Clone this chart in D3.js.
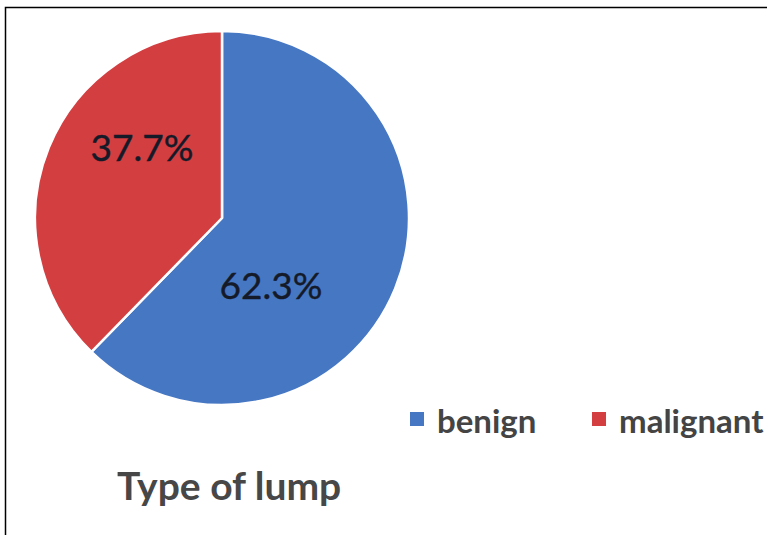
<!DOCTYPE html>
<html>
<head>
<meta charset="utf-8">
<script src="https://cdn.jsdelivr.net/npm/d3@7"></script>
<style>
html,body{margin:0;padding:0;background:#fff;}
svg{display:block;}
</style>
</head>
<body>
<svg id="chart" width="767" height="535"></svg>
<script>
const categories = ["benign", "malignant"];
const values = [62.3, 37.7];
const labels = ["62.3%", "37.7%"];
const colors = ["#4677C3", "#D33E41"];
const title = "Type of lump";

const svg = d3.select("#chart");
// frame (only top and left edges visible in the crop)
svg.append("rect").attr("x", 5.5).attr("y", 7.5).attr("width", 800).attr("height", 600)
  .attr("fill", "none").attr("stroke", "#000").attr("stroke-width", 1.5);

const cx = 222, cy = 218, r = 187;
const pie = d3.pie().sort(null).value(d => d)(values);
const arc = d3.arc().innerRadius(0).outerRadius(r);
const g = svg.append("g").attr("transform", `translate(${cx},${cy})`);
g.selectAll("path").data(pie).join("path")
  .attr("d", arc)
  .attr("fill", (d, i) => colors[i])
  .attr("stroke", "#fff").attr("stroke-width", 2.5).attr("stroke-linejoin", "round");

const labelPos = [[49, 81], [-80, -57]];
g.selectAll("text.lbl").data(pie).join("text")
  .attr("class", "lbl")
  .attr("x", (d, i) => labelPos[i][0])
  .attr("y", (d, i) => labelPos[i][1])
  .attr("text-anchor", "middle")
  .attr("font-family", "Lato, 'Open Sans', sans-serif")
  .attr("font-size", 37)
  .attr("fill", "#141a28")
  .attr("stroke", "#141a28").attr("stroke-width", 0.4)
  .text((d, i) => labels[i]);

// legend
const legX = [410, 592];
const leg = svg.append("g");
categories.forEach((c, i) => {
  leg.append("rect").attr("x", legX[i]).attr("y", 412).attr("width", 14).attr("height", 14).attr("fill", colors[i]);
  leg.append("text").attr("x", legX[i] + 27).attr("y", 433)
    .attr("font-family", "Lato, 'Open Sans', sans-serif").attr("font-weight", "bold")
    .attr("font-size", 33).attr("fill", "#444").text(c);
});

svg.append("text").attr("x", 117).attr("y", 500)
  .attr("font-family", "Lato, 'Open Sans', sans-serif").attr("font-weight", "bold")
  .attr("font-size", 39).attr("fill", "#474747").text(title);
</script>
</body>
</html>
